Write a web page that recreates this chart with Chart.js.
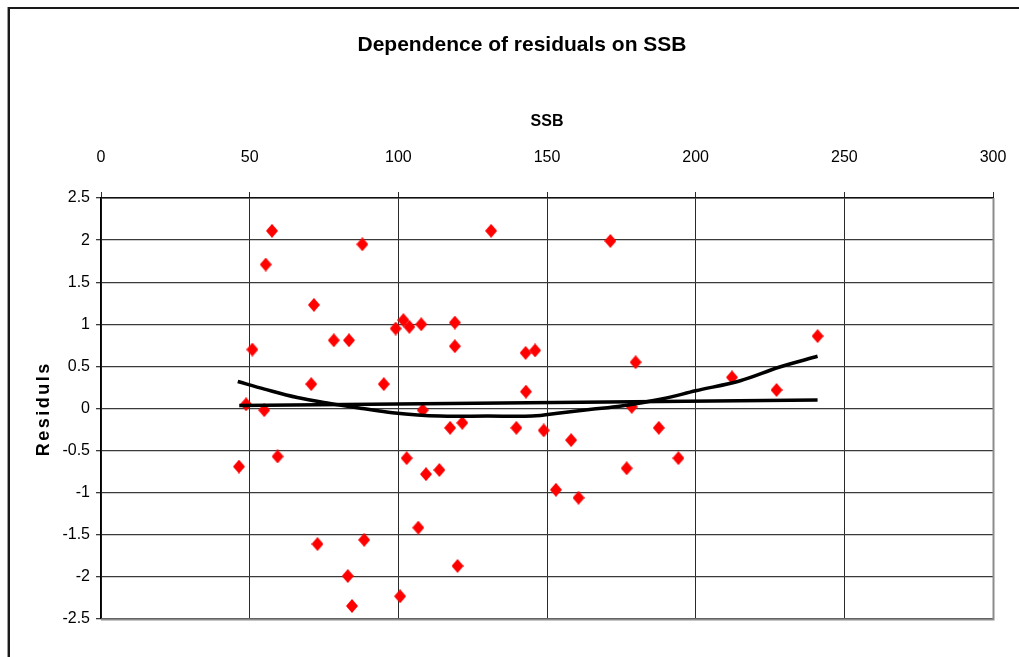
<!DOCTYPE html>
<html>
<head>
<meta charset="utf-8">
<script src="https://cdn.jsdelivr.net/npm/chart.js@4.4.1/dist/chart.umd.min.js"></script>
<style>
  html, body { margin: 0; padding: 0; background: #fff; }
  canvas { display: block; }
</style>
</head>
<body>
<canvas id="c" width="1019" height="657"></canvas>
<script>
// ---- data ----
const chartTitle = "Dependence of residuals on SSB";
const xTitle = "SSB";
const yTitle = "Residuls";
const xTicks = [0, 50, 100, 150, 200, 250, 300];
const xTickLabels = ["0", "50", "100", "150", "200", "250", "300"];
const yTicks = [-2.5, -2, -1.5, -1, -0.5, 0, 0.5, 1, 1.5, 2, 2.5];
const yTickLabels = ["-2.5", "-2", "-1.5", "-1", "-0.5", "0", "0.5", "1", "1.5", "2", "2.5"];

const ssb = [46.4, 48.8, 50.9, 54.9, 55.4, 57.5, 59.4, 70.7, 71.6, 72.8,
             78.3, 83.0, 83.4, 84.4, 87.9, 88.5, 95.1, 99.1, 100.6, 101.7,
             102.8, 103.7, 106.7, 107.7, 108.2, 109.3, 113.8, 117.4, 119.0, 119.0,
             119.9, 121.5, 131.2, 139.7, 142.8, 142.9, 146.0, 148.9, 153.0, 158.1,
             160.6, 171.3, 176.8, 178.5, 179.8, 187.6, 194.2, 212.2, 227.2, 241.0];
const residuals = [-0.69, 0.05, 0.70, -0.02, 1.71, 2.11, -0.57, 0.29, 1.23, -1.61,
                   0.81, -1.99, 0.81, -2.345, 1.95, -1.56, 0.29, 0.95, -2.23, 1.05,
                   -0.59, 0.97, -1.415, 1.00, -0.02, -0.78, -0.73, -0.23, 1.02, 0.74,
                   -1.87, -0.17, 2.11, -0.23, 0.66, 0.20, 0.69, -0.26, -0.965, -0.375,
                   -1.06, 1.99, -0.71, 0.02, 0.55, -0.23, -0.59, 0.37, 0.22, 0.86];

const linTrendX = [46.5, 241];
const linTrendY = [0.035, 0.10];

const polyTrendX = [46, 55, 66, 77, 88, 98, 114, 130, 145, 155, 165, 175, 189, 200, 215, 228, 241];
const polyTrendY = [0.32, 0.23, 0.13, 0.06, 0.00, -0.05, -0.09, -0.09, -0.09, -0.05, -0.01, 0.03, 0.115, 0.21, 0.33, 0.49, 0.62];

// ---- helpers ----
const zip = (xs, ys) => xs.map((x, i) => ({ x: x, y: ys[i] }));
const FONT = '"Liberation Sans", Arial, sans-serif';
const labelFor = (vals, labels) => (v) => {
  const i = vals.findIndex(t => Math.abs(t - v) < 1e-9);
  return i >= 0 ? labels[i] : '';
};

// diamond marker
const diamond = document.createElement('canvas');
diamond.width = 12; diamond.height = 14;
(function () {
  const g = diamond.getContext('2d');
  g.fillStyle = '#ff0000';
  g.beginPath();
  g.moveTo(6, 0); g.lineTo(12, 7); g.lineTo(6, 14); g.lineTo(0, 7);
  g.closePath(); g.fill();
})();

const decor = {
  id: 'decor',
  beforeDraw(chart) {
    const ctx = chart.ctx;
    ctx.save();
    ctx.fillStyle = '#fff';
    ctx.fillRect(0, 0, chart.width, chart.height);
    // outer frame (top & left visible)
    ctx.fillStyle = '#9a9a9a';
    ctx.fillRect(7, 7, 1, chart.height);
    ctx.fillStyle = '#1a1a1a';
    ctx.fillRect(8, 7, 2, chart.height);
    ctx.fillRect(8, 7, chart.width, 2);
    ctx.restore();
  },
  afterDatasetsDraw(chart) {
    const ctx = chart.ctx;
    const a = chart.chartArea;
    ctx.save();
    ctx.strokeStyle = '#8c8c8c';
    ctx.lineWidth = 2;
    ctx.beginPath();
    ctx.moveTo(a.left, a.bottom + 0.5);
    ctx.lineTo(a.right + 0.5, a.bottom + 0.5);
    ctx.lineTo(a.right + 0.5, a.top);
    ctx.stroke();
    ctx.restore();
  },
  afterDraw(chart) {
    const ctx = chart.ctx;
    ctx.save();
    ctx.fillStyle = '#000';
    ctx.font = 'bold 21px ' + FONT;
    ctx.textAlign = 'center';
    ctx.textBaseline = 'middle';
    ctx.fillText(chartTitle, 522, 45);
    // rotated, letter-spaced y title
    ctx.translate(44, 410);
    ctx.rotate(-Math.PI / 2);
    ctx.font = 'bold 18px ' + FONT;
    const sp = 2.5;
    try { ctx.letterSpacing = sp + 'px'; } catch (e) {}
    ctx.textAlign = 'left';
    const w = ctx.measureText(yTitle).width;
    ctx.fillText(yTitle, -(w - sp) / 2, 0);
    ctx.restore();
  }
};

new Chart(document.getElementById('c'), {
  type: 'scatter',
  data: {
    datasets: [
      {
        label: 'linear',
        data: zip(linTrendX, linTrendY),
        showLine: true,
        borderColor: '#000',
        borderWidth: 3.5,
        pointRadius: 0,
        order: 0
      },
      {
        label: 'poly',
        data: zip(polyTrendX, polyTrendY),
        showLine: true,
        borderColor: '#000',
        borderWidth: 3.5,
        pointRadius: 0,
        tension: 0.35,
        order: 1
      },
      {
        label: 'Residuals',
        data: zip(ssb, residuals),
        pointStyle: diamond,
        pointRadius: 6,
        backgroundColor: '#ff0000',
        borderColor: '#ff0000',
        order: 2
      }
    ]
  },
  options: {
    responsive: false,
    animation: false,
    layout: { padding: { left: 0, top: 0, right: 26, bottom: 38 } },
    plugins: {
      legend: { display: false },
      title: { display: false },
      tooltip: { enabled: false }
    },
    scales: {
      x: {
        type: 'linear',
        position: 'top',
        min: 0, max: 300,
        afterBuildTicks: (s) => { s.ticks = xTicks.map(v => ({ value: v })); },
        afterFit: (s) => { s.height = 198; s.paddingLeft = 0; s.paddingRight = 0; },
        grid: { color: '#2a2a2a', lineWidth: 1, tickLength: 6, drawTicks: true },
        border: { display: true, color: '#111', width: 1.5 },
        ticks: { color: '#000', font: { family: FONT, size: 16 }, padding: 25, maxRotation: 0, autoSkip: false,
                 callback: labelFor(xTicks, xTickLabels) },
        title: { display: true, text: xTitle, color: '#000', font: { family: FONT, size: 16, weight: 'bold' }, padding: { top: 112, bottom: 0 } }
      },
      y: {
        type: 'linear',
        position: 'left',
        min: -2.5, max: 2.5,
        afterBuildTicks: (s) => { s.ticks = yTicks.map(v => ({ value: v })); },
        afterFit: (s) => { s.width = 101; s.paddingTop = 0; s.paddingBottom = 0; },
        grid: { color: '#3a3a3a', lineWidth: 1.3, tickLength: 5, drawTicks: true },
        border: { display: true, color: '#000', width: 1.5 },
        ticks: { color: '#000', font: { family: FONT, size: 16 }, padding: 6, autoSkip: false,
                 callback: labelFor(yTicks, yTickLabels) },
        title: { display: false }
      }
    }
  },
  plugins: [decor]
});
</script>
</body>
</html>
